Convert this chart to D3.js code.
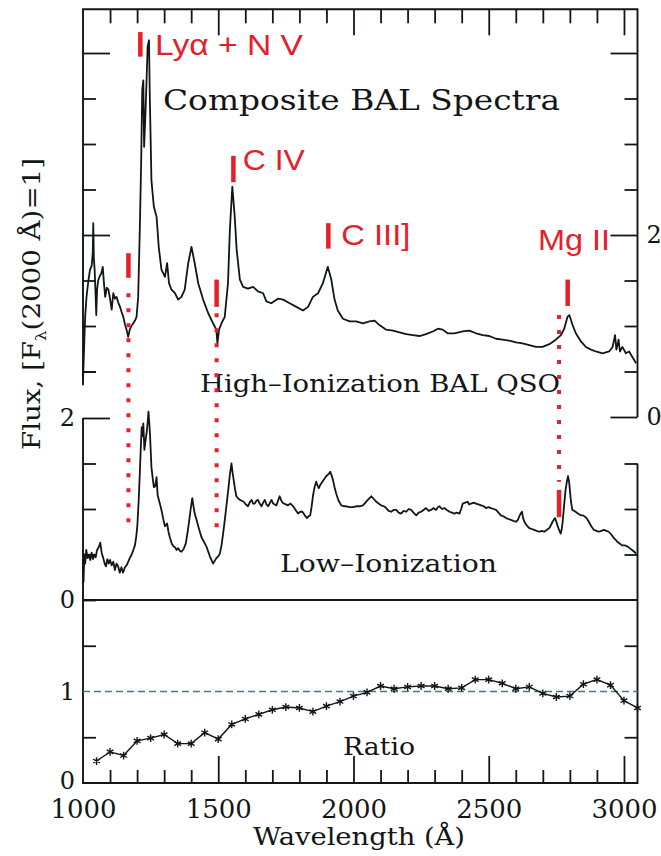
<!DOCTYPE html>
<html>
<head>
<meta charset="utf-8">
<script src="https://cdn.jsdelivr.net/npm/d3@7"></script>
<style>
  html, body { margin: 0; padding: 0; background: #fff; }
  svg { display: block; }
</style>
</head>
<body>
<svg id="chart" width="661" height="856"></svg>
<script>
// ---- Composite spectrum, high-ionization BAL QSOs (wavelength Å, flux normalised at 2000 Å)
const hiWave = [1000,1004,1008,1013,1020,1026,1032,1036,1038,1040,1043,1047,1049,1052,1056,1062,1068,1073,1078,1082,1088,1094,1100,1106,1112,1118,1124,1130,1137,1143,1149,1155,1161,1167,1173,1179,1186,1192,1198,1204,1210,1215,1219,1223,1226,1231,1235,1239,1244,1247,1253,1262,1272,1280,1290,1303,1311,1318,1327,1340,1352,1364,1376,1389,1401,1413,1426,1444,1463,1481,1493,1497,1503,1512,1524,1536,1543,1552,1561,1568,1580,1592,1610,1629,1647,1666,1678,1696,1721,1740,1764,1789,1813,1832,1850,1869,1887,1905,1918,1930,1942,1961,1986,2010,2035,2059,2078,2096,2121,2146,2170,2195,2219,2244,2268,2293,2312,2330,2348,2373,2404,2428,2453,2478,2502,2527,2551,2576,2601,2625,2650,2675,2699,2724,2748,2767,2779,2791,2798,2810,2822,2841,2859,2878,2896,2921,2945,2958,2967,2972,2980,2985,2994,3007,3019,3031,3045];
const hiFlux = [0.40,0.75,1.10,1.32,1.50,1.62,1.66,1.80,2.13,1.75,1.62,1.30,1.12,1.40,1.50,1.55,1.58,1.65,1.45,1.32,1.42,1.40,1.30,1.18,1.36,1.30,1.32,1.26,1.21,1.15,1.10,1.02,0.96,0.88,0.96,1.00,1.03,1.06,1.10,1.32,2.06,2.79,3.59,3.70,2.97,3.34,3.70,4.07,4.14,3.52,2.60,2.31,2.20,1.87,1.62,1.54,1.69,1.47,1.40,1.36,1.29,1.32,1.40,1.69,1.87,1.69,1.47,1.29,1.14,1.03,0.96,0.81,0.96,1.03,1.10,1.47,2.06,2.53,2.20,1.84,1.51,1.43,1.41,1.43,1.38,1.36,1.27,1.25,1.30,1.29,1.25,1.21,1.17,1.21,1.32,1.36,1.47,1.65,1.51,1.29,1.17,1.08,1.05,1.05,1.03,1.05,1.06,1.01,0.96,0.95,0.93,0.91,0.90,0.89,0.91,0.94,0.97,0.96,0.92,0.92,0.94,0.95,0.92,0.90,0.89,0.86,0.85,0.84,0.82,0.81,0.79,0.77,0.77,0.80,0.85,0.90,0.97,1.10,1.12,1.01,0.92,0.83,0.77,0.74,0.72,0.70,0.72,0.77,0.90,0.74,0.85,0.72,0.77,0.70,0.72,0.66,0.59];

// ---- Composite spectrum, low-ionization BAL QSOs
const loWave = [1000,1002,1005,1008,1012,1017,1022,1027,1032,1037,1042,1047,1052,1058,1064,1069,1075,1080,1085,1090,1095,1100,1106,1112,1118,1124,1130,1136,1142,1148,1155,1161,1167,1173,1180,1186,1192,1197,1201,1206,1210,1214,1217,1220,1223,1227,1231,1235,1239,1242,1245,1248,1253,1258,1262,1267,1272,1276,1284,1290,1296,1303,1311,1316,1321,1328,1334,1340,1346,1352,1358,1364,1372,1380,1387,1393,1398,1404,1409,1413,1420,1426,1432,1438,1447,1456,1462,1469,1475,1481,1487,1493,1500,1506,1512,1518,1523,1527,1532,1537,1543,1549,1553,1557,1562,1567,1573,1580,1587,1594,1602,1610,1616,1623,1629,1635,1641,1647,1653,1660,1666,1672,1678,1684,1690,1697,1703,1709,1715,1721,1727,1735,1742,1750,1758,1767,1777,1786,1795,1803,1811,1820,1828,1834,1840,1845,1850,1856,1862,1867,1872,1878,1885,1892,1899,1907,1914,1919,1924,1930,1936,1945,1955,1964,1973,1986,1998,2010,2022,2035,2044,2053,2066,2075,2084,2093,2102,2112,2121,2130,2139,2148,2158,2167,2176,2185,2195,2204,2213,2222,2232,2241,2250,2259,2268,2278,2287,2296,2305,2312,2318,2327,2336,2345,2355,2364,2373,2382,2392,2398,2404,2413,2422,2428,2435,2444,2453,2462,2472,2481,2490,2499,2508,2518,2527,2536,2545,2554,2564,2573,2582,2591,2601,2608,2613,2618,2623,2627,2632,2640,2650,2659,2668,2677,2687,2696,2705,2714,2724,2731,2736,2745,2750,2754,2760,2766,2770,2774,2779,2784,2789,2793,2797,2800,2804,2809,2815,2821,2830,2840,2849,2858,2864,2870,2879,2889,2898,2907,2916,2926,2935,2944,2953,2963,2970,2975,2984,2993,3003,3012,3021,3030,3038,3045];
const loFlux = [0.45,0.20,0.50,0.40,0.55,0.46,0.50,0.44,0.52,0.45,0.50,0.47,0.55,0.58,0.63,0.52,0.46,0.40,0.37,0.45,0.40,0.44,0.38,0.42,0.33,0.40,0.37,0.30,0.36,0.30,0.36,0.38,0.42,0.46,0.50,0.55,0.60,0.70,0.82,1.10,1.39,1.70,1.90,1.80,1.94,1.65,1.75,1.83,1.95,2.07,1.95,1.80,1.46,1.33,1.24,1.25,1.35,1.15,1.06,0.99,0.90,0.81,0.84,0.75,0.69,0.62,0.59,0.58,0.55,0.57,0.54,0.53,0.56,0.62,0.75,0.88,1.00,1.12,1.02,0.95,0.88,0.81,0.75,0.69,0.64,0.59,0.54,0.48,0.44,0.40,0.43,0.46,0.48,0.51,0.60,0.73,0.85,0.95,1.08,1.21,1.38,1.50,1.40,1.32,1.22,1.14,1.12,1.10,1.09,1.08,1.05,1.03,1.07,1.10,1.06,1.06,1.09,1.10,1.06,1.03,1.07,1.10,1.05,1.03,1.06,1.10,1.06,1.05,1.04,1.09,1.14,1.08,1.06,1.05,1.04,1.06,1.03,0.99,0.95,0.97,0.97,0.93,0.90,0.92,0.93,1.02,1.14,1.24,1.30,1.26,1.23,1.27,1.30,1.33,1.36,1.38,1.41,1.37,1.32,1.24,1.17,1.09,1.04,1.03,1.03,1.02,1.02,1.03,1.03,1.04,1.07,1.10,1.14,1.11,1.08,1.06,1.04,1.03,1.01,0.98,0.97,0.99,0.99,0.96,0.95,0.98,0.97,1.00,0.99,0.96,0.93,0.96,0.97,0.99,1.01,0.98,0.99,1.01,0.99,1.02,1.03,1.00,1.01,0.99,0.97,0.96,0.95,0.96,0.95,1.00,1.06,1.07,1.08,1.05,1.06,1.07,1.06,1.05,1.04,1.03,1.01,1.02,1.01,1.00,0.99,0.96,0.93,0.92,0.90,0.89,0.88,0.87,0.86,0.88,0.92,0.95,0.97,0.90,0.86,0.82,0.79,0.78,0.77,0.76,0.75,0.76,0.75,0.77,0.79,0.83,0.86,0.90,0.86,0.82,0.77,0.73,0.78,0.88,1.05,1.21,1.30,1.36,1.30,1.21,1.08,0.99,0.98,0.97,0.95,0.93,0.93,0.91,0.89,0.86,0.81,0.77,0.76,0.75,0.76,0.77,0.76,0.75,0.72,0.68,0.66,0.64,0.62,0.60,0.60,0.59,0.57,0.55,0.53,0.51];

// ---- Ratio of low- to high-ionization composites, binned every 50 Å
const ratioWave = [1050,1100,1150,1200,1250,1300,1350,1400,1450,1500,1550,1600,1650,1700,1750,1800,1850,1900,1950,2000,2050,2100,2150,2200,2250,2300,2350,2400,2450,2500,2550,2600,2650,2700,2750,2800,2850,2900,2950,3000,3050];
const ratioVal  = [0.24,0.34,0.30,0.46,0.49,0.53,0.43,0.43,0.55,0.48,0.64,0.70,0.75,0.80,0.83,0.82,0.78,0.84,0.89,0.95,0.99,1.06,1.03,1.05,1.06,1.06,1.03,1.04,1.13,1.13,1.09,1.03,1.05,0.98,0.94,0.95,1.08,1.13,1.07,0.90,0.82];

// ---- Axis ticks and labels
const xMajorTicks = [1000,1500,2000,2500,3000];
const xMinorTicks = d3.range(1100, 3001, 100).filter(v => v % 500 !== 0);
const fluxMajorHi = [0,2,4];
const fluxMinorHi = [0.5,1,1.5,2.5,3,3.5];
const fluxMinorLo = [0.5,1,1.5];
const ratioMinor  = [0.5,1.5];

// ---- Emission-line identifications (upper-panel flux units)
const lineNames    = ["Lyα + N V", "C IV", "C III]", "Mg II"];
const lineBarWave  = [1212, 1556, 1907, 2792];
const lineBarTop   = [4.23, 2.87, 2.13, 1.51];
const lineBarBot   = [3.96, 2.58, 1.85, 1.22];
const lineTextWave = [1266, 1591, 1955, 2682];
const lineTextFlux = [3.98, 2.71, 1.89, 1.835];
const lineTextLen  = [148, 62, 69, 72];

// ---- Absorption troughs traced down to the low-ionization spectrum
const troughWave   = [1168, 1494, 2760];
const troughBarTop = [1.80, 1.51, null];
const troughBarBot = [1.53, 1.21, null];
const troughHiFrom = [1.36, 1.14, 1.12];
const troughLoTo   = [0.74, 0.80, 1.30];
const mgLoBar      = [1.21, 0.91];

const svg = d3.select("#chart");
const ink = "#131617";
const red = "#e5202b";
const serif = "'DejaVu Serif', 'Liberation Serif', serif";
const sans = "'Liberation Sans', Arial, sans-serif";

const x    = d3.scaleLinear().domain([1000, 3050]).range([83, 637.5]);
const yHi  = d3.scaleLinear().domain([0, 2]).range([417, 235]);
const yLo  = d3.scaleLinear().domain([0, 2]).range([600, 418]);
const yRat = d3.scaleLinear().domain([0, 2]).range([783, 600]);

const x0 = x.range()[0], x1 = x.range()[1];
const yTop = yHi(4.48), yBot = yRat(0);

// ---- frame segments
const frame = svg.append("g").attr("stroke", ink).attr("stroke-width", 1.9).attr("fill", "none");
frame.append("path").attr("d", `M${x0},${yHi(0.35)}V${yTop}H${x1}V${yHi(0)}`);
frame.append("path").attr("d", `M${x0},${yLo(2)}V${yBot}H${x1}V${yLo(1.5)}`);
frame.append("line").attr("x1", x0).attr("x2", x1).attr("y1", yLo(0)).attr("y2", yLo(0));

function styleAxis(g, fontSize) {
  g.select(".domain").remove();
  g.selectAll(".tick line").attr("stroke", ink).attr("stroke-width", 1.8);
  g.selectAll(".tick text").attr("fill", ink).attr("font-family", serif).attr("font-size", fontSize);
}

// ---- wavelength axes (top and bottom, ticks inward)
svg.append("g").attr("transform", `translate(0,${yTop})`)
  .call(d3.axisTop(x).tickValues(xMinorTicks).tickSize(-14).tickFormat(""))
  .call(g => styleAxis(g, 0));
svg.append("g").attr("transform", `translate(0,${yTop})`)
  .call(d3.axisTop(x).tickValues(xMajorTicks.slice(1)).tickSize(-26).tickFormat(""))
  .call(g => styleAxis(g, 0));
svg.append("g").attr("transform", `translate(0,${yBot})`)
  .call(d3.axisBottom(x).tickValues(xMinorTicks).tickSize(-13).tickFormat(""))
  .call(g => styleAxis(g, 0));
const xb = svg.append("g").attr("transform", `translate(0,${yBot})`)
  .call(d3.axisBottom(x).tickValues(xMajorTicks).tickSize(-27).tickPadding(17).tickFormat(d3.format("d")))
  .call(g => styleAxis(g, 26));
xb.selectAll(".tick").filter(d => d === 1000).select("line").remove();

// ---- flux axes, upper spectrum
svg.append("g").attr("transform", `translate(${x0},0)`)
  .call(d3.axisLeft(yHi).tickValues([2,4]).tickSize(-27).tickFormat(""))
  .call(g => styleAxis(g, 0));
svg.append("g").attr("transform", `translate(${x0},0)`)
  .call(d3.axisLeft(yHi).tickValues(fluxMinorHi.concat([0.5])).tickSize(-13).tickFormat(""))
  .call(g => styleAxis(g, 0));
svg.append("g").attr("transform", `translate(${x1},0)`)
  .call(d3.axisRight(yHi).tickValues(fluxMajorHi).tickSize(-27).tickPadding(9).tickFormat(d => d === 4 ? "" : d))
  .call(g => styleAxis(g, 24));
svg.append("g").attr("transform", `translate(${x1},0)`)
  .call(d3.axisRight(yHi).tickValues(fluxMinorHi).tickSize(-13).tickFormat(""))
  .call(g => styleAxis(g, 0));

// ---- flux axes, lower spectrum
svg.append("g").attr("transform", `translate(${x0},0)`)
  .call(d3.axisLeft(yLo).tickValues([2]).tickSize(-27).tickPadding(8).tickFormat(d3.format("d")))
  .call(g => styleAxis(g, 24));
svg.append("g").attr("transform", `translate(${x0},0)`)
  .call(d3.axisLeft(yLo).tickValues([0].concat(fluxMinorLo)).tickSize(-13).tickPadding(8).tickFormat(d => d === 0 ? "0" : ""))
  .call(g => styleAxis(g, 24));
svg.append("g").attr("transform", `translate(${x1},0)`)
  .call(d3.axisRight(yLo).tickValues(fluxMinorLo).tickSize(-13).tickFormat(""))
  .call(g => styleAxis(g, 0));

// ---- ratio axes
svg.append("g").attr("transform", `translate(${x0},0)`)
  .call(d3.axisLeft(yRat).tickValues([0,1].concat(ratioMinor)).tickSize(-13).tickPadding(8).tickFormat(d => Number.isInteger(d) ? d : ""))
  .call(g => styleAxis(g, 24))
  .call(g => g.selectAll(".tick").filter(d => d === 0 || d === 1).select("line").remove())
  .call(g => g.selectAll(".tick").filter(d => d === 0).select("text").attr("dy", "0.22em"));
svg.append("g").attr("transform", `translate(${x1},0)`)
  .call(d3.axisRight(yRat).tickValues(ratioMinor).tickSize(-13).tickFormat(""))
  .call(g => styleAxis(g, 0));

// ---- spectra
const hiLine = d3.line().x(d => x(d[0])).y(d => yHi(d[1]));
const loLine = d3.line().x(d => x(d[0])).y(d => yLo(d[1]));
svg.append("path").datum(d3.zip(hiWave, hiFlux))
  .attr("d", hiLine).attr("fill", "none").attr("stroke", ink)
  .attr("stroke-width", 1.8).attr("stroke-linejoin", "round");
svg.append("path").datum(d3.zip(loWave, loFlux))
  .attr("d", loLine).attr("fill", "none").attr("stroke", ink)
  .attr("stroke-width", 1.8).attr("stroke-linejoin", "round");

// ---- ratio panel: unity reference and binned ratio
svg.append("line")
  .attr("x1", x0).attr("x2", x1).attr("y1", yRat(1)).attr("y2", yRat(1))
  .attr("stroke", "#3b7f8e").attr("stroke-width", 1.5).attr("stroke-dasharray", "7 4");
const ratioPts = d3.zip(ratioWave, ratioVal);
svg.append("path").datum(ratioPts)
  .attr("d", d3.line().x(d => x(d[0])).y(d => yRat(d[1])))
  .attr("fill", "none").attr("stroke", ink).attr("stroke-width", 1.4);
svg.append("g").selectAll("path").data(ratioPts).join("path")
  .attr("transform", d => `translate(${x(d[0])},${yRat(d[1])})`)
  .attr("d", d3.symbol().type(d3.symbolAsterisk).size(42))
  .attr("fill", "none").attr("stroke", ink).attr("stroke-width", 1.4);

// ---- panel captions
const captions = svg.append("g").attr("fill", ink).attr("font-family", serif);
captions.append("text").attr("x", 163).attr("y", 110).attr("font-size", 27)
  .attr("textLength", 397).attr("lengthAdjust", "spacingAndGlyphs").text("Composite BAL Spectra");
captions.append("text").attr("x", 200).attr("y", 392).attr("font-size", 25)
  .attr("textLength", 360).attr("lengthAdjust", "spacingAndGlyphs").text("High\u2013Ionization BAL QSO");
captions.append("text").attr("x", 280).attr("y", 572).attr("font-size", 25)
  .attr("textLength", 217).attr("lengthAdjust", "spacingAndGlyphs").text("Low\u2013Ionization");
captions.append("text").attr("x", 343).attr("y", 755).attr("font-size", 24)
  .attr("textLength", 72).attr("lengthAdjust", "spacingAndGlyphs").text("Ratio");
captions.append("text").attr("x", 359).attr("y", 845).attr("font-size", 25)
  .attr("text-anchor", "middle").attr("textLength", 212).attr("lengthAdjust", "spacingAndGlyphs")
  .text("Wavelength (Å)");

// ---- vertical axis title
const yt = captions.append("text").attr("transform", "translate(40,304) rotate(-90)")
  .attr("text-anchor", "middle").attr("font-size", 25)
  .attr("textLength", 292).attr("lengthAdjust", "spacingAndGlyphs");
yt.append("tspan").text("Flux,  [F");
yt.append("tspan").attr("font-size", 15).attr("dy", 6).text("λ");
yt.append("tspan").attr("dy", -6).text("(2000 Å)=1]");

// ---- line identifications
const ann = svg.append("g");
ann.selectAll("line.id").data(d3.range(lineNames.length)).join("line")
  .attr("x1", i => x(lineBarWave[i])).attr("x2", i => x(lineBarWave[i]))
  .attr("y1", i => yHi(lineBarTop[i])).attr("y2", i => yHi(lineBarBot[i]))
  .attr("stroke", red).attr("stroke-width", 4.5);
ann.selectAll("text").data(d3.range(lineNames.length)).join("text")
  .attr("x", i => x(lineTextWave[i])).attr("y", i => yHi(lineTextFlux[i]))
  .attr("fill", red).attr("font-family", sans).attr("font-size", 30)
  .attr("textLength", i => lineTextLen[i]).attr("lengthAdjust", "spacingAndGlyphs")
  .text(i => lineNames[i]);

// ---- absorption troughs
troughWave.forEach((w, i) => {
  if (troughBarTop[i] !== null) {
    ann.append("line").attr("x1", x(w)).attr("x2", x(w))
      .attr("y1", yHi(troughBarTop[i])).attr("y2", yHi(troughBarBot[i]))
      .attr("stroke", red).attr("stroke-width", 4.5);
  }
  ann.append("line").attr("x1", x(w)).attr("x2", x(w))
    .attr("y1", yHi(troughHiFrom[i])).attr("y2", yLo(troughLoTo[i]))
    .attr("stroke", red).attr("stroke-width", 4).attr("stroke-dasharray", "4 11");
});
ann.append("line").attr("x1", x(troughWave[2])).attr("x2", x(troughWave[2]))
  .attr("y1", yLo(mgLoBar[0])).attr("y2", yLo(mgLoBar[1]))
  .attr("stroke", red).attr("stroke-width", 4.5);
</script>
</body>
</html>
